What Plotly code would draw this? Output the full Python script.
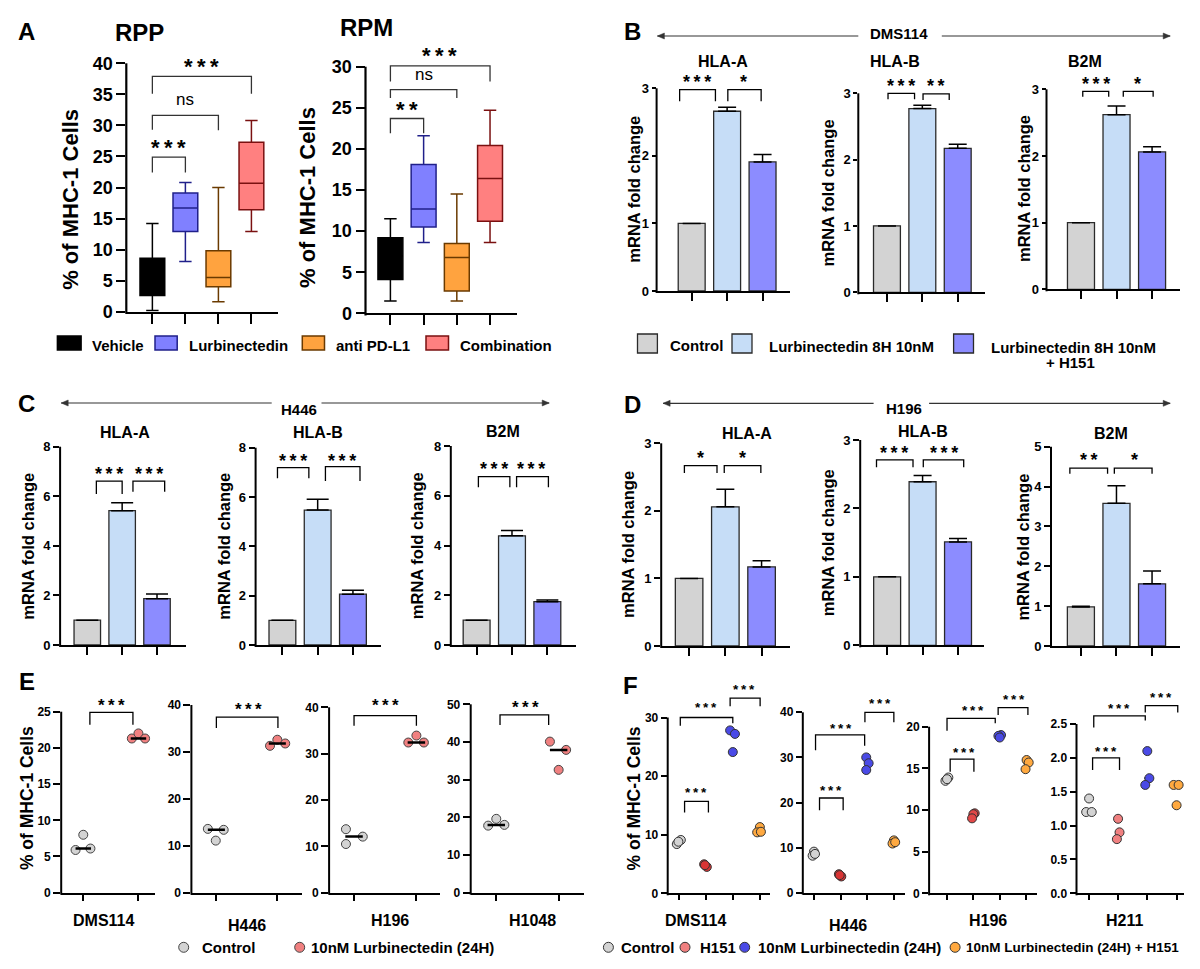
import numpy as np
import plotly.graph_objects as go

# page body has an 8px default margin: the figure is sized so the page fits the 1200x969 window
OFF = 8
W, H = 1200 - 2 * OFF, 969 - 2 * OFF
FONT = "Liberation Sans, Arial, Helvetica, sans-serif"

# ---------------- Panel A : box plots ----------------
A_groups = ["Vehicle", "Lurbinectedin", "anti PD-L1", "Combination"]
RPP_low = [0.2, 8.1, 1.6, 12.9]
RPP_q1 = [2.6, 12.9, 4.0, 16.4]
RPP_median = [5.0, 16.7, 5.5, 20.7]
RPP_q3 = [8.6, 19.1, 9.8, 27.3]
RPP_high = [14.2, 20.8, 20.0, 30.8]
RPM_low = [1.5, 8.6, 1.5, 8.6]
RPM_q1 = [4.1, 10.5, 2.7, 11.2]
RPM_median = [7.0, 12.7, 6.8, 16.4]
RPM_q3 = [9.2, 18.1, 8.5, 20.4]
RPM_high = [11.5, 21.6, 14.5, 24.7]
# significance brackets: (x_from, x_to, top, left_leg_end, right_leg_end, label, label_x, label_y)
RPP_sig = [(0, 1, 24.9, 22.4, 22.4, "***", 0.48, 27.3),
           (0, 2, 31.6, 29.3, 29.2, "ns", 1.0, 34.2),
           (0, 3, 37.9, 35.1, 35.1, "***", 1.48, 40.3)]
RPM_sig = [(0, 1, 23.7, 21.9, 21.9, "**", 0.49, 25.5),
           (0, 2, 27.2, 26.2, 26.2, "ns", 1.0, 29.1),
           (0, 3, 30.1, 28.2, 28.2, "***", 1.49, 32.0)]

# ---------------- Panels B, C, D : qPCR bars ----------------
genes = ["HLA-A", "HLA-B", "B2M"]
mrna_groups = ["Control", "Lurbinectedin 8H 10nM", "Lurbinectedin 8H 10nM", "+ H151"]
B_mean = {"HLA-A": [1.0, 2.66, 1.91], "HLA-B": [1.0, 2.77, 2.17], "B2M": [1.0, 2.62, 2.06]}
B_err = {"HLA-A": [0.0, 0.06, 0.11], "HLA-B": [0.0, 0.05, 0.06], "B2M": [0.0, 0.13, 0.08]}
C_mean = {"HLA-A": [1.0, 5.42, 1.87], "HLA-B": [1.0, 5.47, 2.06], "B2M": [1.0, 4.39, 1.74]}
C_err = {"HLA-A": [0.0, 0.32, 0.19], "HLA-B": [0.0, 0.44, 0.16], "B2M": [0.0, 0.21, 0.07]}
D_mean = {"HLA-A": [1.0, 2.06, 1.17], "HLA-B": [1.0, 2.39, 1.51], "B2M": [0.98, 3.58, 1.56]}
D_err = {"HLA-A": [0.0, 0.26, 0.09], "HLA-B": [0.0, 0.09, 0.05], "B2M": [0.02, 0.44, 0.32]}
B_sig = {"HLA-A": [(-0.34, 0.67, 2.98, 2.81, 2.81, "***", 0.16, 3.16), (1.02, 1.96, 2.98, 2.81, 2.81, "*", 1.47, 3.16)],
         "HLA-B": [(0.03, 0.78, 3.0, 2.91, 2.91, "***", 0.39, 3.18), (1.02, 1.76, 2.99, 2.9, 2.9, "**", 1.38, 3.18)],
         "B2M": [(0.05, 0.78, 2.97, 2.89, 2.89, "***", 0.41, 3.15), (1.19, 2.03, 2.97, 2.89, 2.89, "*", 1.6, 3.15)]}
C_sig = {"HLA-A": [(0.26, 1.0, 6.61, 6.09, 6.09, "***", 0.63, 7.1), (1.31, 2.22, 6.61, 6.18, 6.18, "***", 1.76, 7.1)],
         "HLA-B": [(-0.14, 0.75, 7.19, 6.76, 6.76, "***", 0.29, 7.66), (1.22, 2.2, 7.23, 6.65, 6.65, "***", 1.69, 7.66)],
         "B2M": [(0.05, 0.94, 6.77, 6.34, 6.34, "***", 0.49, 7.26), (1.13, 2.03, 6.77, 6.34, 6.34, "***", 1.55, 7.26)]}
D_sig = {"HLA-A": [(-0.13, 0.77, 2.67, 2.56, 2.56, "*", 0.32, 2.85), (0.97, 1.98, 2.67, 2.56, 2.56, "*", 1.47, 2.85)],
         "HLA-B": [(-0.3, 0.73, 2.71, 2.6, 2.6, "***", 0.19, 2.88), (1.02, 2.16, 2.71, 2.6, 2.6, "***", 1.6, 2.88)],
         "B2M": [(-0.31, 0.75, 4.46, 4.32, 4.32, "**", 0.23, 4.77), (0.94, 2.0, 4.46, 4.32, 4.32, "*", 1.5, 4.77)]}

# ---------------- Panel E : dot plots ----------------
E_lines = ["DMS114", "H446", "H196", "H1048"]
E_groups = ["Control", "10nM Lurbinectedin (24H)"]
E_control = [[5.9, 8.0, 6.1], [13.6, 13.4, 11.1], [13.7, 12.1, 10.5], [17.8, 19.6, 18.0]]
E_lurbi = [[21.3, 22.0, 21.3], [31.3, 32.6, 31.8], [32.4, 33.9, 32.4], [40.1, 37.9, 32.6]]
E_control_dx = [[-0.14, 0.0, 0.13], [-0.14, 0.12, -0.01], [-0.13, 0.14, -0.13], [-0.13, 0.0, 0.13]]
E_lurbi_dx = [[-0.12, 0.0, 0.12], [-0.12, 0.0, 0.13], [-0.13, 0.0, 0.12], [-0.14, 0.12, 0.0]]
E_sig = [[(0.12, 0.9, 24.9, 23.2, 23.2, "***", 0.52, 26.4)],
         [(0.0, 1.01, 37.4, 35.1, 35.1, "***", 0.52, 40.0)],
         [(0.0, 1.0, 38.2, 36.0, 36.0, "***", 0.51, 41.2)],
         [(0.06, 0.84, 47.2, 44.5, 44.5, "***", 0.47, 50.3)]]

# ---------------- Panel F : dot plots ----------------
F_lines = ["DMS114", "H446", "H196", "H211"]
F_groups = ["Control", "H151", "10nM Lurbinectedin (24H)", "10nM Lurbinectedin (24H) + H151"]
F_control = [[9.1, 8.4, 8.8], [9.1, 8.2, 8.6], [13.9, 13.5, 13.7], [1.4, 1.2, 1.2]]
F_h151 = [[4.95, 4.5, 4.8], [4.1, 3.6, 3.9], [9.6, 9.5, 9.0], [1.1, 0.9, 0.8]]
F_lurbi = [[27.8, 27.2, 24.1], [30.0, 28.7, 27.2], [19.0, 18.9, 18.7], [2.1, 1.7, 1.6]]
F_combo = [[11.3, 10.4, 10.5], [11.6, 10.9, 11.2], [16.0, 15.7, 14.9], [1.6, 1.6, 1.3]]
F_control_dx = [[0.06, -0.09, -0.03], [-0.01, -0.06, 0.03], [0.05, -0.06, 0.0], [0.01, -0.09, 0.1]]
F_h151_dx = [[-0.07, 0.03, -0.04], [-0.07, 0.02, -0.04], [0.05, 0.0, -0.05], [0.0, 0.05, -0.04]]
F_lurbi_dx = [[-0.1, 0.08, 0.0], [-0.04, 0.05, -0.04], [0.05, -0.05, 0.0], [0.0, 0.07, -0.07]]
F_combo_dx = [[0.01, -0.09, 0.05], [0.0, -0.05, 0.05], [0.02, 0.1, -0.02], [-0.1, 0.07, 0.0]]
F_sig = [[(0.2, 1.09, 15.7, 13.8, 13.8, "***", 0.61, 17.7), (0.04, 2.0, 30.0, 28.6, 29.0, "***", 1.0, 32.2),
          (1.9, 3.02, 33.3, 31.9, 31.9, "***", 2.43, 35.3)],
         [(0.2, 1.09, 21.0, 18.3, 18.3, "***", 0.65, 23.4), (0.05, 1.9, 35.0, 31.6, 32.6, "***", 1.0, 37.2),
          (1.91, 3.0, 40.0, 37.8, 37.8, "***", 2.48, 42.6)],
         [(0.12, 1.02, 16.1, 14.6, 14.6, "***", 0.63, 17.3), (0.0, 1.83, 21.0, 19.5, 20.4, "***", 0.99, 22.4),
          (1.94, 3.07, 22.3, 21.4, 21.4, "***", 2.56, 23.7)],
         [(0.13, 1.05, 2.0, 1.82, 1.82, "***", 0.58, 2.14), (0.17, 1.93, 2.62, 2.45, 2.55, "***", 1.04, 2.78),
          (1.93, 3.04, 2.77, 2.67, 2.67, "***", 2.48, 2.94)]]

# ---------------- styles ----------------
A_fill = ["#000000", "#8080FF", "#FFA33F", "#FF8080"]
A_edge = ["#000000", "#20208A", "#6A3A00", "#7A1010"]
BAR_FILL = ["#D3D3D3", "#C6DDF7", "#8C8CFF"]
E_COL = ["#D3D3D3", "#F08080"]
F_COL = ["#D3D3D3", "#EE6A6A", "#4A4AE6", "#FFA940"]

layout = dict(width=W, height=H, margin=dict(l=0, r=0, t=0, b=0), paper_bgcolor="white",
              plot_bgcolor="white", showlegend=False, font=dict(family=FONT, color="black"))
shapes, annotations, traces = [], [], []
ranges = {}


def PX(x):
    return (x - OFF) / W


def PY(y):
    return 1 - (y - OFF) / H


def text(x, y, s, size, xanchor="center", angle=0, weight="bold"):
    annotations.append(dict(x=PX(x), y=PY(y), xref="paper", yref="paper", text=s, showarrow=False,
                            xanchor=xanchor, yanchor="middle", textangle=angle,
                            font=dict(family=FONT, size=size, color="black", weight=weight)))


def make_axes(i, geo, ncat, ystep, xtl, ytl, lw, tfs, fmt="{:g}"):
    left, right, y0, yT, T, R, xmin, xmax = geo
    ppu = (y0 - yT) / T
    top = y0 - R * ppu
    key = "" if i == 1 else str(i)
    xn, yn = "x" + key, "y" + key
    ranges[yn] = R
    layout["xaxis" + key] = dict(domain=[PX(left), PX(right)], range=[xmin, xmax], anchor=yn, showline=True,
                                 linecolor="black", linewidth=lw, ticks="outside", ticklen=xtl, tickwidth=lw,
                                 tickcolor="black", tickvals=list(range(ncat)), showticklabels=False,
                                 showgrid=False, zeroline=False, fixedrange=True, automargin=False)
    yt = [round(float(v), 3) for v in np.arange(0, T + 1e-9, ystep)]
    layout["yaxis" + key] = dict(domain=[PY(y0), PY(top)], range=[0, R], anchor=xn, showline=False,
                                 ticks="outside", ticklen=ytl, tickwidth=lw, tickcolor="black", tickvals=yt,
                                 ticktext=[fmt.format(v) for v in yt],
                                 tickfont=dict(family=FONT, size=tfs, color="black", weight="bold"),
                                 showgrid=False, zeroline=False, fixedrange=True, automargin=False)
    shapes.append(dict(type="line", xref=xn + " domain", yref=yn + " domain", x0=0, x1=0,
                       y0=-lw / (y0 - top), y1=T / R, line=dict(color="black", width=lw)))
    return xn, yn


def brackets(xn, yn, sig, fs, lw=1.3, color="black", ns_fs=None):
    R = ranges[yn]
    for (xa, xb, top, la, lb, lab, lx, ly) in sig:
        shapes.append(dict(type="path", xref=xn, yref=yn,
                           path=f"M {xa},{la} L {xa},{top} L {xb},{top} L {xb},{lb}",
                           line=dict(color=color, width=lw)))
        star = "*" in lab
        f = fs if star else (ns_fs or fs)
        shown = "\u2009".join(lab) if star else lab
        annotations.append(dict(x=lx, y=ly / R, xref=xn, yref=yn + " domain", text=shown, showarrow=False,
                                xanchor="center", yanchor="middle",
                                yshift=(-0.25 * f if star else 0),
                                font=dict(family=FONT, size=f, color="black",
                                          weight="bold" if star else "normal")))


def arrow(xl, xr, y, gl, gr, label, lx, ly):
    for a, b in [(xl, gl), (gr, xr)]:
        shapes.append(dict(type="line", xref="paper", yref="paper", x0=PX(a), x1=PX(b), y0=PY(y), y1=PY(y),
                           line=dict(color="#333333", width=1.2)))
    for tip, d in [(xl, 1), (xr, -1)]:
        shapes.append(dict(type="path", xref="paper", yref="paper",
                           path=f"M {PX(tip)},{PY(y)} L {PX(tip + d * 7)},{PY(y - 3)} L {PX(tip + d * 7)},{PY(y + 3)} Z",
                           fillcolor="#333333", line=dict(color="#333333", width=0.5)))
    text(lx, ly, label, 15)


idx = 0

# ---------------- Panel A ----------------
A_geo = [(126.3, 277.5, 311.7, 63.3, 40, 40, -0.79, 3.79), (365.5, 516.6, 313.3, 66.7, 30, 30.5, -0.75, 3.8)]
A_sets = [(RPP_low, RPP_q1, RPP_median, RPP_q3, RPP_high, RPP_sig),
          (RPM_low, RPM_q1, RPM_median, RPM_q3, RPM_high, RPM_sig)]
for geo, (lo, q1, md, q3, hi, sig) in zip(A_geo, A_sets):
    idx += 1
    xn, yn = make_axes(idx, geo, 4, 5, 10, 9, 2.2, 18)
    for g in range(len(A_groups)):
        traces.append(go.Box(x=[g], q1=[q1[g]], median=[md[g]], q3=[q3[g]], lowerfence=[lo[g]],
                             upperfence=[hi[g]], width=0.75, whiskerwidth=0.5, fillcolor=A_fill[g],
                             line=dict(color=A_edge[g], width=1.5), boxpoints=False, name=A_groups[g],
                             xaxis=xn, yaxis=yn, hoverinfo="skip"))
    brackets(xn, yn, sig, 22, lw=1.3, color="#333333", ns_fs=17)

text(26.8, 31, "A", 24)
text(139.7, 33, "RPP", 24)
text(366.6, 28, "RPM", 24)
text(70.8, 199, "% of MHC-1 Cells", 22, angle=-90)
text(308, 198, "% of MHC-1 Cells", 22, angle=-90)
A_leg_sq = [(57.4, 81.1), (155.0, 177.2), (302.3, 324.5), (426.0, 448.5)]
A_leg_tx = [90.0, 186.8, 334.1, 458.1]
for g in range(4):
    shapes.append(dict(type="rect", xref="paper", yref="paper", x0=PX(A_leg_sq[g][0]), x1=PX(A_leg_sq[g][1]),
                       y0=PY(350), y1=PY(336), fillcolor=A_fill[g], line=dict(color=A_edge[g], width=1.5)))
    text(A_leg_tx[g], 345, A_groups[g], 15, xanchor="left")

# ---------------- Panels B, C, D ----------------
BCD = [
    ("B", B_mean, B_err, B_sig, 1, 8, 4, 9,
     [(656.6, 790.2, 291.0, 88.3, 3, 3.05, -0.99, 2.78), (858.3, 984.6, 292.3, 93.3, 3, 3.05, -0.81, 2.76),
      (1046.5, 1179.8, 289.3, 89.3, 3, 3.05, -0.97, 2.78)],
     [(722.5, 62), (894.7, 62), (1085.3, 62)], [(633.7, 189), (828.9, 192.5), (1024.0, 189)]),
    ("C", C_mean, C_err, C_sig, 2, 8, 6, 11,
     [(60.1, 185.6, 645.0, 446.7, 8, 8, -0.78, 2.82), (255.6, 380.8, 645.0, 447.7, 8, 8, -0.76, 2.79),
      (450.8, 576.0, 645.0, 446.0, 8, 8, -0.73, 2.81)],
     [(125.1, 433), (317.6, 433), (503.3, 431.7)], [(27.9, 545.8), (223.9, 545.8), (416.4, 545.8)]),
    ("D", D_mean, D_err, D_sig, 1, 8, 6, 9,
     [(661.2, 790.2, 646.0, 443.3, 3, 3, -0.77, 2.79), (860.2, 983.9, 645.3, 440.0, 3, 3, -0.76, 2.73),
      (1051.0, 1179.8, 646.0, 446.7, 5, 5, -0.84, 2.78)],
     [(747.3, 433.3), (922.6, 431.7), (1110.9, 433.3)], [(627.9, 544), (827.7, 542.5), (1022.9, 546.7)]),
]
for (pname, means, errs, sigs, ystep, xtl, ytl, capw, geos, tpos, ypos) in BCD:
    for k, gene in enumerate(genes):
        idx += 1
        xn, yn = make_axes(idx, geos[k], 3, ystep, xtl, ytl, 2, 13)
        traces.append(go.Bar(x=[0, 1, 2], y=means[gene], width=0.76,
                             marker=dict(color=BAR_FILL, line=dict(color="#2A2A2A", width=1.3)),
                             error_y=dict(type="data", symmetric=False, array=errs[gene], arrayminus=[0, 0, 0],
                                          color="black", thickness=1.5, width=capw),
                             xaxis=xn, yaxis=yn, hoverinfo="skip"))
        brackets(xn, yn, sigs[gene], 18)
        text(tpos[k][0], tpos[k][1], gene, 16)
        text(ypos[k][0], ypos[k][1], "mRNA fold change", 16.5, angle=-90)

text(632.5, 31, "B", 24)
text(26.8, 404, "C", 24)
text(632.5, 405, "D", 24)
arrow(657.4, 1170.2, 36, 858.3, 941.8, "DMS114", 898.5, 34)
arrow(61.2, 549.2, 403, 271.7, 321.5, "H446", 298.5, 409)
arrow(663.1, 1170.2, 403.3, 873.6, 929.1, "H196", 904.3, 408)

B_leg_sq = [(637.5, 657.4), (732.0, 752.0), (953.6, 973.5)]
for g in range(3):
    shapes.append(dict(type="rect", xref="paper", yref="paper", x0=PX(B_leg_sq[g][0]), x1=PX(B_leg_sq[g][1]),
                       y0=PY(353), y1=PY(334), fillcolor=BAR_FILL[g], line=dict(color="#2A2A2A", width=1.3)))
text(668.1, 345, mrna_groups[0], 15, xanchor="left")
text(767.2, 346, mrna_groups[1], 15, xanchor="left")
text(989.2, 347, mrna_groups[2], 15, xanchor="left")
text(1070.7, 363, mrna_groups[3], 15)

# ---------------- Panel E ----------------
E_geo = [(61.2, 155.0, 892.7, 711.7, 25, 25.3, -0.4, 1.3), (191.4, 302.3, 892.7, 705.0, 40, 40, -0.41, 1.41),
         (329.1, 440.1, 892.7, 707.3, 40, 40, -0.4, 1.38), (470.7, 583.6, 892.7, 704.3, 50, 50, -0.41, 1.4)]
E_steps = [5, 10, 10, 10]
E_lab_pos = [(103.3, 920.7), (246.8, 925), (390.4, 920.7), (532.7, 920.7)]
for k, cl in enumerate(E_lines):
    idx += 1
    xn, yn = make_axes(idx, E_geo[k], 2, E_steps[k], 6, 7, 2, 12)
    for g, (vals, dxs) in enumerate([(E_control[k], E_control_dx[k]), (E_lurbi[k], E_lurbi_dx[k])]):
        traces.append(go.Scatter(x=[g + d for d in dxs], y=vals, mode="markers", cliponaxis=False,
                                 marker=dict(size=9, color=E_COL[g], line=dict(color="#444444", width=1)),
                                 xaxis=xn, yaxis=yn, hoverinfo="skip"))
        m = float(np.median(vals))
        traces.append(go.Scatter(x=[g - 0.14, g + 0.14], y=[m, m], mode="lines",
                                 line=dict(color="black", width=2.5), xaxis=xn, yaxis=yn, hoverinfo="skip"))
    brackets(xn, yn, E_sig[k], 17)
    text(E_lab_pos[k][0], E_lab_pos[k][1], cl, 16)
text(26.8, 681.7, "E", 24)
text(26.8, 798.3, "% of MHC-1 Cells", 17.5, angle=-90)
E_leg_c = [183.7, 299.7]
E_leg_t = [199.8, 309.2]
for g in range(2):
    shapes.append(dict(type="circle", xref="paper", yref="paper", x0=PX(E_leg_c[g] - 5), x1=PX(E_leg_c[g] + 5),
                       y0=PY(947.3 + 5), y1=PY(947.3 - 5), fillcolor=E_COL[g], line=dict(color="#444444", width=1)))
    text(E_leg_t[g], 947.3, E_groups[g], 15, xanchor="left")

# ---------------- Panel F ----------------
F_geo = [(667.7, 770.3, 893.3, 717.5, 30, 34, -0.43, 3.4), (802.8, 905.0, 892.7, 712.3, 40, 40.5, -0.43, 3.42),
         (929.1, 1037.4, 893.3, 726.7, 20, 22.6, -0.68, 3.43), (1076.5, 1183.6, 893.3, 724.0, 2.5, 2.8, -0.42, 3.24)]
F_steps = [10, 10, 5, 0.5]
F_fmt = ["{:g}", "{:g}", "{:g}", "{:.1f}"]
F_lab_pos = [(695.7, 920.7), (847.6, 925), (987.7, 920.7), (1124.3, 920.7)]
F_h151_col = ["#D93434", "#D93434", "#E24848", "#F08080"]
for k, cl in enumerate(F_lines):
    idx += 1
    xn, yn = make_axes(idx, F_geo[k], 4, F_steps[k], 5, 6, 2, 12, F_fmt[k])
    groups = [(F_control[k], F_control_dx[k]), (F_h151[k], F_h151_dx[k]),
              (F_lurbi[k], F_lurbi_dx[k]), (F_combo[k], F_combo_dx[k])]
    for g, (vals, dxs) in enumerate(groups):
        m = float(np.median(vals))
        traces.append(go.Scatter(x=[g - 0.1, g + 0.1], y=[m, m], mode="lines",
                                 line=dict(color="black", width=2), xaxis=xn, yaxis=yn, hoverinfo="skip"))
        col = F_h151_col[k] if g == 1 else F_COL[g]
        traces.append(go.Scatter(x=[g + d for d in dxs], y=vals, mode="markers", cliponaxis=False,
                                 marker=dict(size=9, color=col, line=dict(color="#333333", width=1)),
                                 xaxis=xn, yaxis=yn, hoverinfo="skip"))
    brackets(xn, yn, F_sig[k], 13.5)
    text(F_lab_pos[k][0], F_lab_pos[k][1], cl, 16)
text(630.6, 685, "F", 24)
text(634.4, 798, "% of MHC-1 Cells", 17.5, angle=-90)
F_leg_c = [608.4, 685.0, 744.7, 955.1]
F_leg_t = [619.1, 697.6, 756.1, 964.3]
F_leg_fs = [15, 15, 15, 13.5]
for g in range(4):
    shapes.append(dict(type="circle", xref="paper", yref="paper", x0=PX(F_leg_c[g] - 5), x1=PX(F_leg_c[g] + 5),
                       y0=PY(947.3 + 5), y1=PY(947.3 - 5), fillcolor=F_COL[g] if g != 1 else "#F08080",
                       line=dict(color="#333333", width=1)))
    text(F_leg_t[g], 947.3, F_groups[g], F_leg_fs[g], xanchor="left")

layout["shapes"] = shapes
layout["annotations"] = annotations
fig = go.Figure(data=traces, layout=layout)
fig.write_html("out.html")
